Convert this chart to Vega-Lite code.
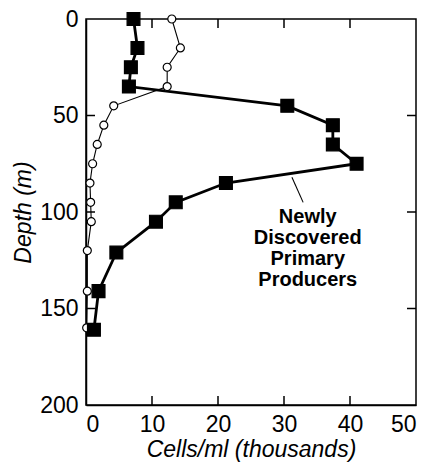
{
  "$schema": "https://vega.github.io/schema/vega-lite/v6.json",
  "width": 330,
  "height": 386,
  "autosize": {"type": "none"},
  "padding": {"left": 86, "top": 19, "right": 15, "bottom": 60},
  "background": "white",
  "config": {
    "font": "Liberation Sans",
    "view": {"stroke": "black", "strokeWidth": 1.5},
    "axis": {
      "gridOpacity": 0,
      "domainColor": "black",
      "domainWidth": 1.5,
      "labelColor": "black",
      "labelFont": "Liberation Sans",
      "labelFontSize": 23,
      "labelFontWeight": "normal",
      "titleColor": "black",
      "titleFont": "Liberation Sans",
      "titleFontSize": 23,
      "titleFontWeight": "normal",
      "titleFontStyle": "italic"
    }
  },
  "datasets": {
    "profiles": [
      {"group": "other", "depth": 0, "cells": 13.0},
      {"group": "other", "depth": 15, "cells": 14.3},
      {"group": "other", "depth": 25, "cells": 12.3},
      {"group": "other", "depth": 35, "cells": 12.3},
      {"group": "other", "depth": 45, "cells": 4.2},
      {"group": "other", "depth": 55, "cells": 2.7},
      {"group": "other", "depth": 65, "cells": 1.7},
      {"group": "other", "depth": 75, "cells": 1.0},
      {"group": "other", "depth": 85, "cells": 0.6},
      {"group": "other", "depth": 95, "cells": 0.7},
      {"group": "other", "depth": 105, "cells": 0.8},
      {"group": "other", "depth": 120, "cells": 0.2},
      {"group": "other", "depth": 141, "cells": 0.2},
      {"group": "other", "depth": 160, "cells": 0.1},
      {"group": "producers", "depth": 0, "cells": 7.2},
      {"group": "producers", "depth": 15, "cells": 7.8},
      {"group": "producers", "depth": 25, "cells": 6.8},
      {"group": "producers", "depth": 35, "cells": 6.5},
      {"group": "producers", "depth": 45, "cells": 30.5},
      {"group": "producers", "depth": 55, "cells": 37.4},
      {"group": "producers", "depth": 65, "cells": 37.4},
      {"group": "producers", "depth": 75, "cells": 41},
      {"group": "producers", "depth": 85, "cells": 21.2},
      {"group": "producers", "depth": 95, "cells": 13.6},
      {"group": "producers", "depth": 105, "cells": 10.6},
      {"group": "producers", "depth": 121, "cells": 4.6},
      {"group": "producers", "depth": 141, "cells": 1.9},
      {"group": "producers", "depth": 161, "cells": 1.2}
    ],
    "xticks": [{"v": 10}, {"v": 20}, {"v": 30}, {"v": 40}],
    "yticks": [{"v": 50}, {"v": 100}, {"v": 150}]
  },
  "resolve": {"axis": {"x": "independent", "y": "independent"}},
  "layer": [
    {
      "data": {"name": "profiles"},
      "mark": {"type": "line", "color": "black"},
      "encoding": {
        "x": {"field": "cells", "type": "quantitative",
              "scale": {"domain": [0, 50], "nice": false},
              "axis": {"orient": "bottom", "values": [0, 10, 20, 30, 40, 50], "ticks": false, "labelPadding": 8, "title": "Cells/ml (thousands)", "titlePadding": 2}},
        "y": {"field": "depth", "type": "quantitative",
              "scale": {"domain": [0, 200], "reverse": true, "nice": false},
              "axis": {"orient": "left", "values": [0, 50, 100, 150, 200], "ticks": false, "labelPadding": 8, "title": "Depth (m)", "titlePadding": 4}},
        "strokeWidth": {"field": "group", "type": "nominal", "scale": {"domain": ["other", "producers"], "range": [1.1, 2.8]}, "legend": null},
        "order": {"field": "depth", "type": "quantitative"}
      }
    },
    {
      "data": {"name": "profiles"},
      "mark": {"type": "point", "filled": true, "stroke": "black", "strokeWidth": 1.2, "opacity": 1},
      "encoding": {
        "x": {"field": "cells", "type": "quantitative", "axis": null},
        "y": {"field": "depth", "type": "quantitative", "axis": null},
        "shape": {"field": "group", "type": "nominal", "scale": {"domain": ["other", "producers"], "range": ["circle", "square"]}, "legend": null},
        "fill": {"field": "group", "type": "nominal", "scale": {"domain": ["other", "producers"], "range": ["white", "black"]}, "legend": null},
        "size": {"field": "group", "type": "nominal", "scale": {"domain": ["other", "producers"], "range": [64, 165]}, "legend": null}
      }
    },
    {
      "data": {"name": "xticks"},
      "mark": {"type": "tick", "orient": "vertical", "color": "black", "size": 18, "thickness": 1.5, "clip": true, "opacity": 1},
      "encoding": {
        "x": {"field": "v", "type": "quantitative", "axis": null},
        "y": {"datum": 200, "type": "quantitative", "axis": null}
      }
    },
    {
      "data": {"name": "xticks"},
      "mark": {"type": "tick", "orient": "vertical", "color": "black", "size": 18, "thickness": 1.5, "clip": true, "opacity": 1},
      "encoding": {
        "x": {"field": "v", "type": "quantitative", "axis": null},
        "y": {"datum": 0, "type": "quantitative", "axis": null}
      }
    },
    {
      "data": {"name": "yticks"},
      "mark": {"type": "tick", "orient": "horizontal", "color": "black", "size": 18, "thickness": 1.5, "clip": true, "opacity": 1},
      "encoding": {
        "y": {"field": "v", "type": "quantitative", "axis": null},
        "x": {"datum": 0, "type": "quantitative", "axis": null}
      }
    },
    {
      "data": {"name": "yticks"},
      "mark": {"type": "tick", "orient": "horizontal", "color": "black", "size": 18, "thickness": 1.5, "clip": true, "opacity": 1},
      "encoding": {
        "y": {"field": "v", "type": "quantitative", "axis": null},
        "x": {"datum": 50, "type": "quantitative", "axis": null}
      }
    },
    {
      "data": {"values": [{}]},
      "mark": {"type": "rule", "color": "black", "strokeWidth": 1.1},
      "encoding": {
        "x": {"datum": 31.2, "type": "quantitative", "axis": null},
        "y": {"datum": 82, "type": "quantitative", "axis": null},
        "x2": {"datum": 32.9},
        "y2": {"datum": 95}
      }
    },
    {
      "data": {"values": [{}]},
      "mark": {"type": "text", "text": "Newly\nDiscovered\nPrimary\nProducers", "lineBreak": "\n", "font": "Liberation Sans", "fontSize": 20, "fontWeight": "bold", "lineHeight": 21, "align": "center", "baseline": "alphabetic", "fill": "black"},
      "encoding": {
        "x": {"datum": 33.6, "type": "quantitative", "axis": null},
        "y": {"datum": 105.7, "type": "quantitative", "axis": null}
      }
    }
  ]
}
